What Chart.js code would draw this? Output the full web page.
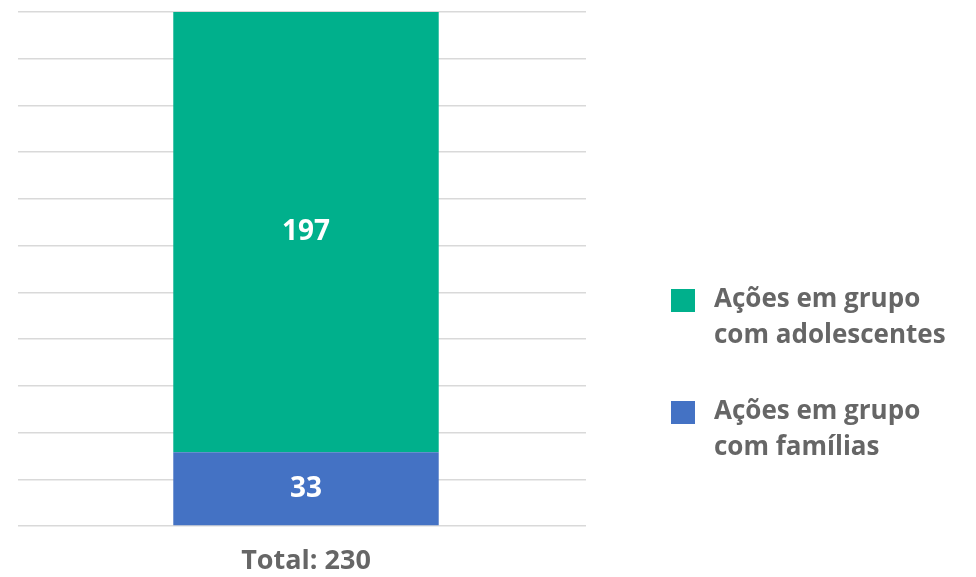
<!DOCTYPE html>
<html>
<head>
<meta charset="utf-8">
<script src="https://cdn.jsdelivr.net/npm/chart.js@4"></script>
<style>
  html, body { margin: 0; padding: 0; background: #fff; }
  #wrap { width: 976px; height: 577px; }
</style>
</head>
<body>
<div id="wrap"><canvas id="grafico"></canvas></div>
<script>
// dados
const categorias = ['Total: 230'];
const familias = [33];
const adolescentes = [197];
const legendaFamilias = ['Ações em grupo', 'com famílias'];
const legendaAdolescentes = ['Ações em grupo', 'com adolescentes'];

const FONTE = "'Open Sans', sans-serif";

// rótulos brancos no meio de cada bloco
const rotulos = {
  id: 'rotulos',
  afterDatasetsDraw(chart) {
    const ctx = chart.ctx;
    ctx.save();
    ctx.fillStyle = '#ffffff';
    ctx.font = 'bold 28px ' + FONTE;
    ctx.textAlign = 'center';
    ctx.textBaseline = 'middle';
    chart.data.datasets.forEach((ds, i) => {
      chart.getDatasetMeta(i).data.forEach((bar, j) => {
        const p = bar.getProps(['x', 'y', 'base'], true);
        ctx.fillText(ds.data[j], p.x, (p.y + p.base) / 2);
      });
    });
    ctx.restore();
  }
};

// legenda à direita, em duas linhas por item
const legenda = {
  id: 'legenda',
  afterDraw(chart) {
    const ctx = chart.ctx;
    const x0 = chart.chartArea.right + 85;
    let y = 300;
    ctx.save();
    ctx.font = 'bold 26px ' + FONTE;
    ctx.textBaseline = 'middle';
    ctx.textAlign = 'left';
    // de cima para baixo: último dataset primeiro
    chart.data.datasets.slice().reverse().forEach(ds => {
      ctx.fillStyle = ds.backgroundColor;
      ctx.fillRect(x0, y - 11, 24, 23);
      ctx.fillStyle = '#666666';
      ds.label.forEach((linha, k) => ctx.fillText(linha, x0 + 43, y + k * 36));
      y += 112;
    });
    ctx.restore();
  }
};

const ctx = document.getElementById('grafico').getContext('2d');
const grafico = new Chart(ctx, {
  type: 'bar',
  data: {
    labels: categorias,
    datasets: [{
      label: legendaFamilias,
      data: familias,
      backgroundColor: '#4472c4'
    },
    {
      label: legendaAdolescentes,
      data: adolescentes,
      backgroundColor: '#00b08c'
    }]
  },
  options: {
    responsive: true,
    maintainAspectRatio: false,
    animation: false,
    layout: {
      padding: { left: 18, top: 12, right: 390, bottom: 2 }
    },
    datasets: {
      bar: { categoryPercentage: 1, barPercentage: 0.474 }
    },
    plugins: {
      tooltip: { enabled: false },
      legend: { display: false }
    },
    scales: {
      x: {
        stacked: true,
        grid: { display: false },
        border: { display: false },
        afterFit(scale) { scale.height = 49; },
        ticks: {
          color: '#666666',
          padding: 11,
          font: { family: FONTE, weight: 'bold', size: 27 }
        }
      },
      y: {
        stacked: true,
        min: 0,
        max: 230,
        border: { display: false },
        grid: { color: '#d9d9d9', lineWidth: 1.5 },
        ticks: { display: false, count: 12 }
      }
    }
  },
  plugins: [rotulos, legenda]
});
</script>
</body>
</html>
